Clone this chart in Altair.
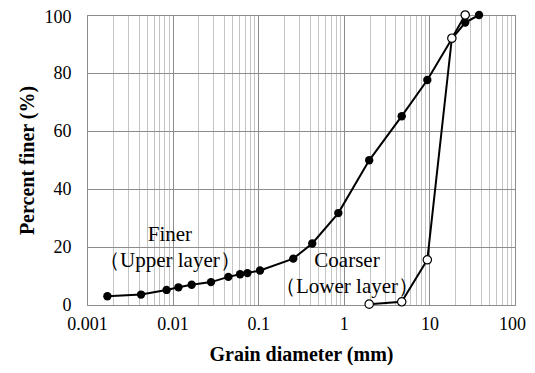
import altair as alt
import pandas as pd

finer_d = [0.00173, 0.00428, 0.0085, 0.0117, 0.0167, 0.0281, 0.0448, 0.0614, 0.0748, 0.105,
           0.257, 0.428, 0.863, 1.98, 4.75, 9.46, 18.3, 26.2, 38.0]
finer_p = [3.0, 3.6, 5.2, 6.1, 7.0, 7.9, 9.7, 10.6, 11.0, 11.9,
           16.0, 21.2, 31.7, 49.9, 65.1, 77.6, 91.8, 97.4, 100.0]
coarse_d = [1.98, 4.75, 9.46, 18.3, 26.2]
coarse_p = [0.3, 1.1, 15.6, 92.0, 100.0]

label_text = ["Finer", "（Upper layer）", "Coarser", "（Lower layer）"]
label_x = [0.0093, 0.0093, 1.09, 1.09]
label_y = [24.0, 15.2, 15.2, 6.2]

x_ticks = [m * 10 ** e for e in range(-3, 2) for m in range(1, 10)] + [100]
y_ticks = [0, 20, 40, 60, 80, 100]

finer = pd.DataFrame({"d": finer_d, "p": finer_p, "s": "Finer"})
coarse = pd.DataFrame({"d": coarse_d, "p": coarse_p, "s": "Coarser"})
labels = pd.DataFrame({"t": label_text, "d": label_x, "p": label_y})

decade = "abs(log(datum.value)/LN10 - round(log(datum.value)/LN10)) < 0.000001"

xs = alt.X("d:Q", scale=alt.Scale(type="log", domain=[0.001, 100], nice=False),
           axis=alt.Axis(values=x_ticks, title="Grain diameter (mm)",
                         labelExpr="(" + decade + ") ? datum.label : ''",
                         format="~g", labelFlush=False, labelOverlap=False,
                         labelOffset={"condition": {"test": "datum.value >= 99", "value": -3}, "value": 0},
                         gridColor={"condition": {"test": decade, "value": "#8c8c8c"}, "value": "#c4c4c4"},
                         labelPadding=10, titlePadding=11))
ys = alt.Y("p:Q", scale=alt.Scale(domain=[0, 100]),
           axis=alt.Axis(values=y_ticks, title="Percent finer (%)", labelPadding=16,
                         labelFlush=False, gridColor="#8c8c8c", titlePadding=7,
                         labelOffset={"condition": {"test": "datum.value >= 99", "value": 2}, "value": 0}))

fl = alt.Chart(finer).mark_line(color="black", strokeWidth=2).encode(x=xs, y=ys)
fp = alt.Chart(finer).mark_circle(color="black", size=70, opacity=1).encode(x=xs, y=ys)
cl = alt.Chart(coarse).mark_line(color="black", strokeWidth=2).encode(x=xs, y=ys)
cp = alt.Chart(coarse).mark_point(shape="circle", filled=True, fill="white", stroke="black",
                                  strokeWidth=1.2, size=70, opacity=1).encode(x=xs, y=ys)
tx = alt.Chart(labels).mark_text(font="Liberation Serif", fontSize=21, color="black").encode(
    x=xs, y=ys, text="t:N")

chart = alt.layer(fl, cl, fp, cp, tx).properties(
    width=428, height=290,
    autosize=alt.AutoSizeParams(type="none"),
    padding={"left": 79, "top": 7, "right": 12, "bottom": 60},
).configure_view(stroke="#8c8c8c", strokeWidth=1).configure_axis(
    domain=False, ticks=False, labelFont="Liberation Serif", labelFontSize=18,
    labelColor="black", titleFont="Liberation Serif", titleFontSize=20,
    titleFontWeight="bold", titleColor="black", gridWidth=1, gridOpacity=1
)

chart.save("out.html", embed_options={"renderer": "svg", "actions": False})
